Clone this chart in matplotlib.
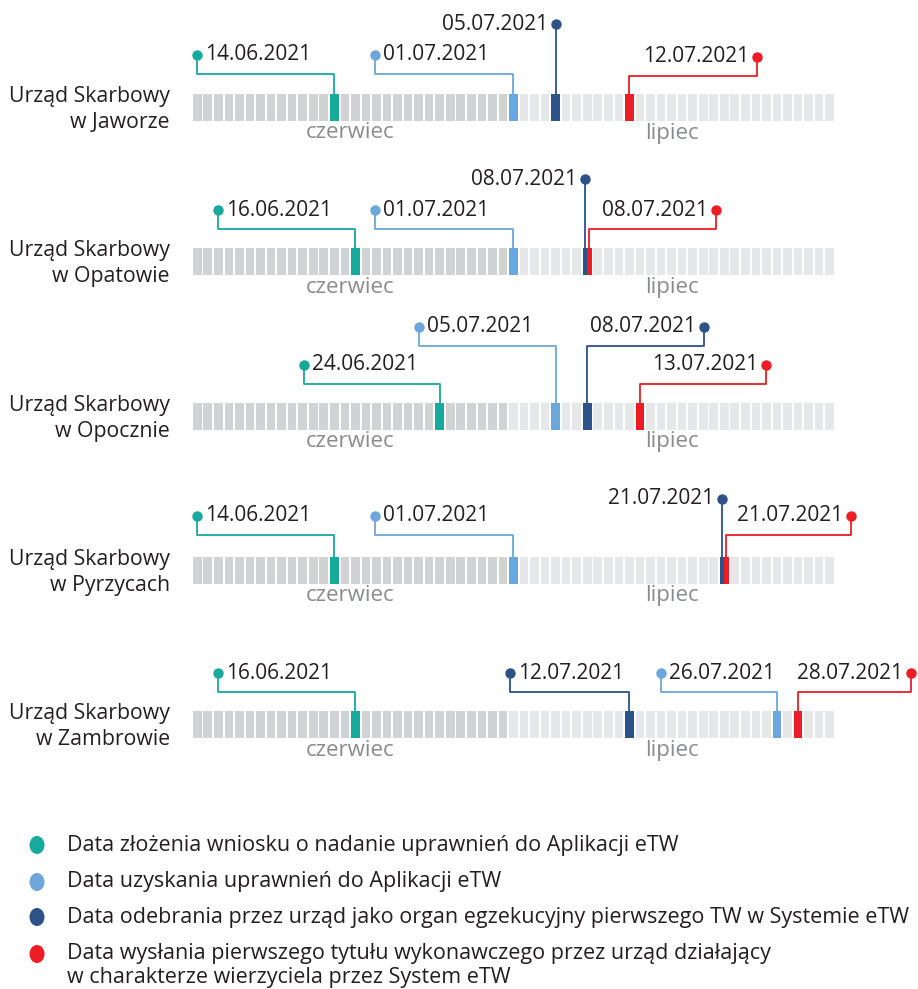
import datetime as dt
import matplotlib
matplotlib.use("Agg")
import matplotlib.pyplot as plt
from matplotlib.patches import Rectangle, Ellipse

plt.rcParams['font.family'] = ['Open Sans', 'DejaVu Sans']

# Data
offices = ["Urząd Skarbowy\nw Jaworze", "Urząd Skarbowy\nw Opatowie", "Urząd Skarbowy\nw Opocznie",
           "Urząd Skarbowy\nw Pyrzycach", "Urząd Skarbowy\nw Zambrowie"]
wniosek = ["2021-06-14", "2021-06-16", "2021-06-24", "2021-06-14", "2021-06-16"]
uzyskanie = ["2021-07-01", "2021-07-01", "2021-07-05", "2021-07-01", "2021-07-26"]
odebranie = ["2021-07-05", "2021-07-08", "2021-07-08", "2021-07-21", "2021-07-12"]
wyslanie = ["2021-07-12", "2021-07-08", "2021-07-13", "2021-07-21", "2021-07-28"]
months = ["czerwiec", "lipiec"]
month_days = [30, 31]
legend_labels = [
    "Data złożenia wniosku o nadanie uprawnień do Aplikacji eTW",
    "Data uzyskania uprawnień do Aplikacji eTW",
    "Data odebrania przez urząd jako organ egzekucyjny pierwszego TW w Systemie eTW",
    "Data wysłania pierwszego tytułu wykonawczego przez urząd działający\nw charakterze wierzyciela przez System eTW",
]

colors = ["#17a99b", "#6ca6da", "#2c5288", "#ee1c25"]
june_grey = "#d1d2d4"
july_grey = "#e6e7e8"
text_col = "#231f20"

# callout layout per row: (dot height above bar px, dot shift px) for each series
callouts = [
    [(39, -137), (39, -138), (70, 0), (37, 128)],
    [(38, -137), (38, -138), (69, 0), (38, 127)],
    [(38, -136), (76, -137), (76, 117), (38, 126)],
    [(41, -137), (41, -138), (58, 0), (41, 125)],
    [(38, -137), (38, -116), (38, -119), (38, 113)],
]

W, H = 918, 989
X0, DAY = 192, 10.54
BAR_H = 27
start = dt.date(2021, 6, 1)

fig = plt.figure(figsize=(W / 100, H / 100), dpi=100)
ax = fig.add_axes([0, 0, 1, 1])
ax.set_xlim(-X0 / DAY, (W - X0) / DAY)
ax.set_ylim(H, 0)
ax.axis("off")

def day_idx(s):
    return (dt.date.fromisoformat(s) - start).days

n_days = sum(month_days)
px = 1 / DAY  # one pixel in day units

for r, name in enumerate(offices):
    top = 94 + r * 154.3
    # background cells
    for d in range(n_days):
        c = june_grey if d < month_days[0] else july_grey
        ax.add_patch(Rectangle((d + 0.09, top), 0.82, BAR_H, color=c, lw=0))
    # month labels
    m0 = 0
    for m, nd in zip(months, month_days):
        ax.text(m0 + nd / 2, top + BAR_H + 12, m, ha="center", va="center",
                fontsize=16, color="#8a8b8c")
        m0 += nd
    # office label
    ax.text(170 / DAY - X0 / DAY, top + BAR_H / 2 + 2, name, ha="right", va="center",
            fontsize=15.3, color=text_col, linespacing=1.3)

    events = [wniosek[r], uzyskanie[r], odebranie[r], wyslanie[r]]
    idxs = [day_idx(e) for e in events]
    for k, (e, d) in enumerate(zip(events, idxs)):
        same = [j for j, dd in enumerate(idxs) if dd == d]
        if len(same) > 1:
            pos = same.index(k)
            w = 0.82 / len(same)
            x_left = d + 0.09 + pos * w
        else:
            w = 0.82
            x_left = d + 0.09
        ax.add_patch(Rectangle((x_left, top), w, BAR_H, color=colors[k], lw=0, zorder=3))
        xc = x_left + w / 2
        lift, shift = callouts[r][k]
        dot_x = xc + shift * px
        dot_y = top - lift
        if shift == 0:
            ax.plot([xc, xc], [top, dot_y], color=colors[k], lw=1.3, zorder=2)
        else:
            elbow = top - (lift - 19)
            ax.plot([xc, xc, dot_x, dot_x], [top, elbow, elbow, dot_y],
                    color=colors[k], lw=1.3, zorder=2)
        ax.plot(dot_x, dot_y, "o", ms=7.5, color=colors[k], mec="none", zorder=4)
        label = dt.date.fromisoformat(e).strftime("%d.%m.%Y")
        if shift < 0:
            ax.text(dot_x + 8 * px, dot_y, label, ha="left", va="center",
                    fontsize=15, color=text_col)
        else:
            ax.text(dot_x - 8 * px, dot_y, label, ha="right", va="center",
                    fontsize=15, color=text_col)

# legend
leg_y = [845, 882, 917, 954]
for k, (lab, yy) in enumerate(zip(legend_labels, leg_y)):
    ax.add_patch(Ellipse((37 / DAY - X0 / DAY, yy), 15 * px, 18, color=colors[k], lw=0))
    for j, line in enumerate(lab.split("\n")):
        ax.text(67 / DAY - X0 / DAY, yy + j * 23, line, ha="left", va="center",
                fontsize=15.5, color=text_col)

fig.savefig("out.png", dpi=100)
